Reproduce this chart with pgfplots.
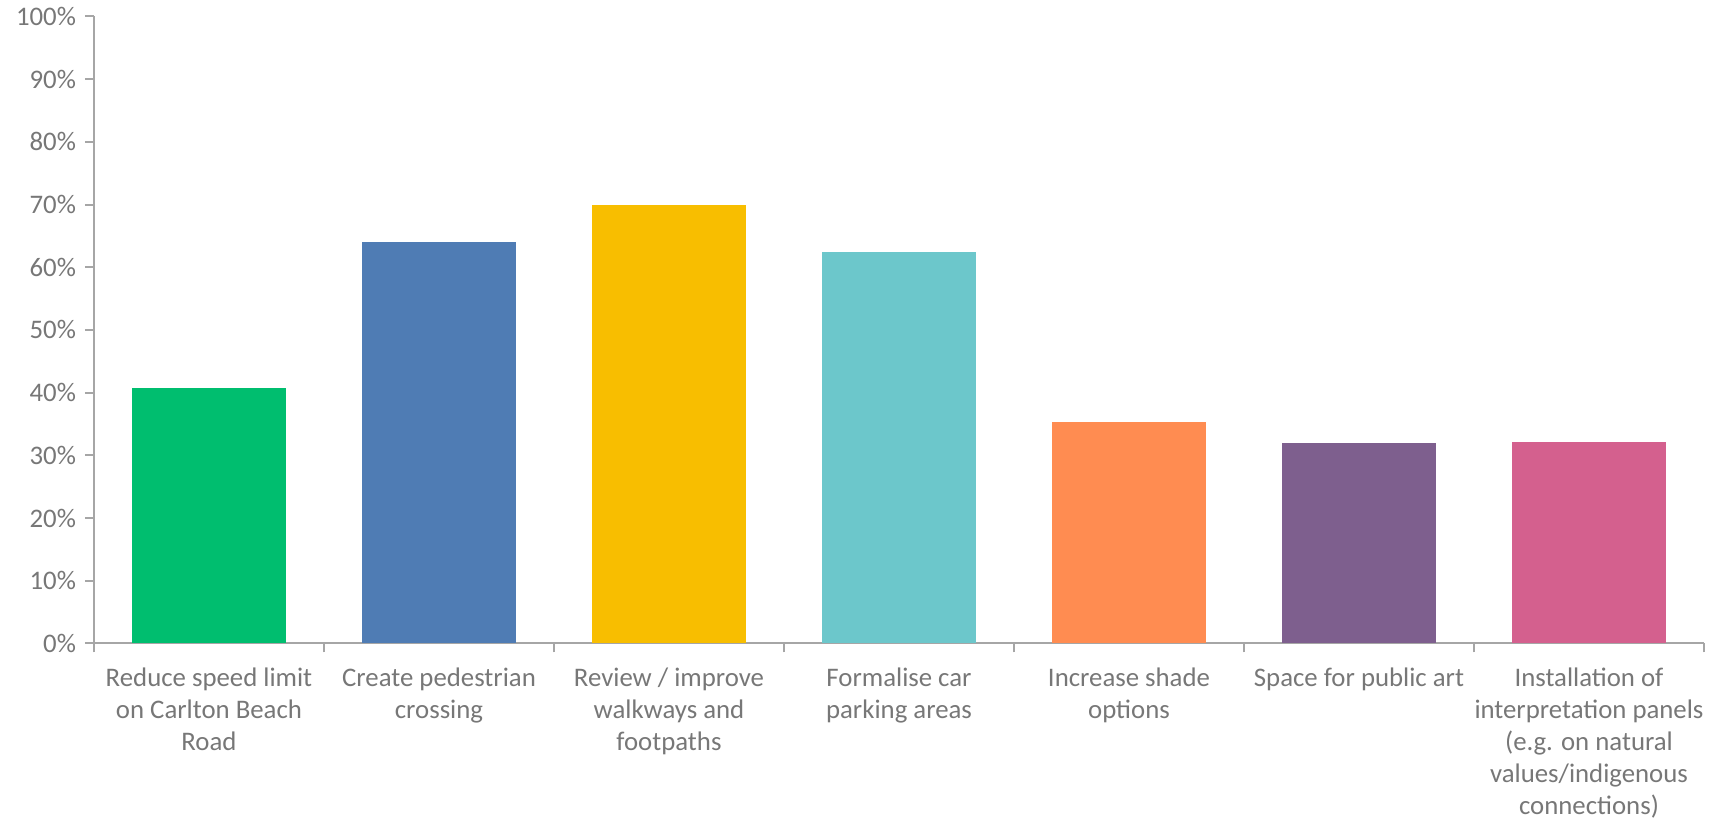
\documentclass[border=0pt]{standalone}
\usepackage{fontspec}
\setmainfont{Carlito}
\usepackage{pgfplots}
\pgfplotsset{compat=1.18}
\definecolor{cgreen}{HTML}{00BE6F}
\definecolor{cblue}{HTML}{4F7CB4}
\definecolor{cyellow}{HTML}{F8BE00}
\definecolor{cteal}{HTML}{6CC7CB}
\definecolor{corange}{HTML}{FF8C51}
\definecolor{cpurple}{HTML}{7E5F8E}
\definecolor{cpink}{HTML}{D4608E}
\definecolor{axisgray}{HTML}{A6A6A6}
\definecolor{textgray}{HTML}{777777}
\begin{document}
\begin{tikzpicture}
\useasboundingbox (-47pt,-88.3pt) rectangle (817.5pt,321.7pt);
\begin{axis}[
  scale only axis, width=805pt, height=313.45pt,
  at={(0,0)}, anchor=south west,
  xmin=-0.5, xmax=6.5, ymin=0, ymax=100,
  axis lines*=left,
  axis line style={draw=axisgray, line width=1pt},
  tick align=outside,
  major tick length=4.5pt,
  tick style={draw=axisgray, line width=1pt},
  ytick={0,10,...,100},
  yticklabels={0\%,10\%,20\%,30\%,40\%,50\%,60\%,70\%,80\%,90\%,100\%},
  yticklabel style={xshift=-1pt},
  xtick={-0.5,0.5,...,6.5},
  xticklabels={{Reduce speed limit\\on Carlton Beach\\Road},
               {Create pedestrian\\crossing},
               {Review / improve\\walkways and\\footpaths},
               {Formalise car\\parking areas},
               {Increase shade\\options},
               {Space for public art},
               {Installation of\\interpretation panels\\(e.g. on natural\\values/indigenous\\connections)},
               {}},
  xticklabel style={xshift=57.5pt, yshift=-4pt, align=center, anchor=north},
  ticklabel style={font=\fontsize{13.4}{16.1}\selectfont, text=textgray},
]
\addplot[ybar, bar width=0.67, bar shift=0pt, fill=cgreen, draw=none] coordinates {(0,40.7)};
\addplot[ybar, bar width=0.67, bar shift=0pt, fill=cblue, draw=none] coordinates {(1,64.0)};
\addplot[ybar, bar width=0.67, bar shift=0pt, fill=cyellow, draw=none] coordinates {(2,69.9)};
\addplot[ybar, bar width=0.67, bar shift=0pt, fill=cteal, draw=none] coordinates {(3,62.4)};
\addplot[ybar, bar width=0.67, bar shift=0pt, fill=corange, draw=none] coordinates {(4,35.3)};
\addplot[ybar, bar width=0.67, bar shift=0pt, fill=cpurple, draw=none] coordinates {(5,32.0)};
\addplot[ybar, bar width=0.67, bar shift=0pt, fill=cpink, draw=none] coordinates {(6,32.1)};
\end{axis}
\end{tikzpicture}
\end{document}
